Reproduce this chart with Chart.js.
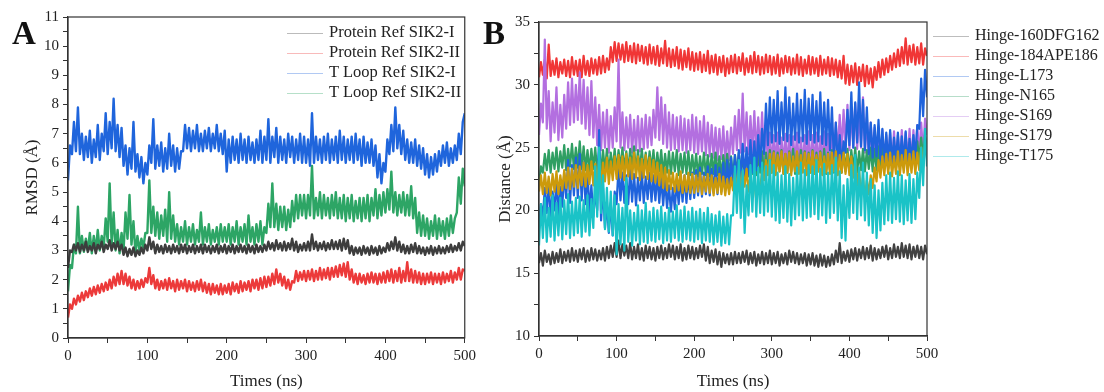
<!DOCTYPE html>
<html>
<head>
<meta charset="utf-8">
<script src="https://cdn.jsdelivr.net/npm/chart.js@4.4.1/dist/chart.umd.min.js"></script>
<style>
  body { margin: 0; background: #fff; font-family: 'Liberation Serif', 'Times New Roman', serif; }
  #wrap { position: relative; width: 1104px; height: 392px; overflow: hidden; }
  .panel { position: absolute; top: 0; height: 392px; }
  #panelA { left: 0; width: 480px; }
  #panelB { left: 480px; width: 624px; }
  .tag { position: absolute; font-weight: bold; font-size: 33px; line-height: 1; color: #111; }
  .legend { position: absolute; font-size: 16.5px; color: #222; }
  .legend div { height: 20px; line-height: 20px; white-space: nowrap; }
  .legend span { display: inline-block; width: 36px; height: 1px; vertical-align: middle; margin-right: 6px; }
</style>
</head>
<body>
<div id="wrap">
  <div class="panel" id="panelA"><canvas id="rmsdChart" width="480" height="392"></canvas></div>
  <div class="panel" id="panelB"><canvas id="distChart" width="624" height="392"></canvas></div>
  <div class="tag" style="left:12px; top:17px;">A</div>
  <div class="tag" style="left:483px; top:17px;">B</div>
  <div class="legend" id="legendA" style="left:287px; top:22px;"></div>
  <div class="legend" id="legendB" style="left:933px; top:25px; font-size:16px;"></div>
</div>
<script>
// sampling grid of the trajectories, ns
const timeNs = Array.from({ length: 201 }, (_, i) => i * 2.5);

// ---- RMSD (A) ----
const rmsdProteinI = [
  2.4, 3.0, 2.95, 3.2, 3.0, 3.25, 2.95, 3.2, 3.0, 3.3, 2.95, 3.15, 3.0, 3.25, 2.9, 3.2, 3.05, 3.3, 2.95, 3.2,
  3.05, 3.35, 3.0, 3.25, 3.05, 3.3, 3.0, 3.2, 2.85, 3.1, 2.8, 3.05, 2.85, 3.1, 2.8, 3.0, 2.85, 3.1, 2.9, 3.2,
  3.0, 3.45, 3.05, 3.3, 2.9, 3.2, 2.95, 3.15, 2.9, 3.2, 2.95, 3.15, 2.9, 3.2, 2.95, 3.15, 2.9, 3.2, 2.95, 3.2,
  2.9, 3.15, 2.95, 3.2, 2.9, 3.15, 2.95, 3.2, 2.9, 3.2, 2.95, 3.15, 2.9, 3.15, 2.95, 3.2, 2.9, 3.15, 2.95, 3.2,
  2.9, 3.15, 2.95, 3.2, 2.9, 3.15, 2.95, 3.2, 2.95, 3.15, 2.9, 3.2, 2.95, 3.15, 2.9, 3.2, 2.95, 3.15, 2.95, 3.2,
  3.0, 3.3, 3.05, 3.25, 3.0, 3.35, 3.05, 3.25, 3.0, 3.3, 3.0, 3.25, 3.05, 3.4, 3.0, 3.3, 2.95, 3.2, 3.0, 3.25,
  3.0, 3.3, 3.0, 3.55, 3.05, 3.3, 3.0, 3.25, 3.05, 3.3, 3.0, 3.25, 3.05, 3.35, 3.05, 3.3, 3.05, 3.35, 3.0, 3.4,
  3.05, 3.35, 2.9, 3.15, 2.85, 3.1, 2.9, 3.1, 2.85, 3.15, 2.9, 3.1, 2.85, 3.15, 2.9, 3.1, 2.85, 3.15, 2.9, 3.1,
  2.95, 3.25, 3.0, 3.3, 3.05, 3.45, 3.0, 3.3, 2.95, 3.2, 2.9, 3.15, 2.9, 3.2, 2.95, 3.25, 2.9, 3.15, 2.9, 3.1,
  2.85, 3.1, 2.9, 3.15, 2.85, 3.1, 2.9, 3.15, 2.9, 3.1, 2.9, 3.15, 2.95, 3.2, 2.95, 3.15, 3.0, 3.25, 3.0, 3.3,
  3.15
];
const rmsdProteinII = [
  0.7, 1.15, 1.0, 1.35, 1.15, 1.45, 1.25, 1.55, 1.3, 1.6, 1.4, 1.7, 1.45, 1.75, 1.5, 1.8, 1.55, 1.85, 1.6, 1.9,
  1.65, 2.0, 1.7, 2.1, 1.8, 2.2, 1.85, 2.3, 1.85, 2.2, 1.8, 2.1, 1.7, 2.0, 1.65, 1.95, 1.7, 2.0, 1.75, 2.05,
  1.9, 2.4, 1.85, 2.15, 1.7, 2.0, 1.65, 1.95, 1.7, 2.0, 1.65, 2.05, 1.7, 1.95, 1.6, 2.0, 1.65, 1.95, 1.7, 2.0,
  1.6, 1.95, 1.65, 1.9, 1.6, 1.95, 1.65, 2.0, 1.6, 1.9, 1.55, 1.85, 1.5, 1.85, 1.55, 1.8, 1.5, 1.85, 1.5, 1.8,
  1.55, 1.85, 1.5, 1.9, 1.6, 1.85, 1.55, 1.95, 1.6, 1.9, 1.65, 1.95, 1.6, 2.0, 1.7, 2.0, 1.65, 2.05, 1.7, 2.1,
  1.75, 2.1, 1.8, 2.2, 1.85, 2.35, 1.9, 2.2, 1.8, 2.1, 1.7, 2.0, 1.65, 1.95, 1.9, 2.3, 1.95, 2.25, 2.0, 2.3,
  1.95, 2.3, 2.0, 2.35, 1.95, 2.3, 2.0, 2.4, 2.0, 2.35, 2.05, 2.4, 2.0, 2.4, 2.1, 2.45, 2.1, 2.5, 2.15, 2.55,
  2.1, 2.6, 2.0, 2.35, 1.9, 2.2, 1.85, 2.2, 1.9, 2.15, 1.85, 2.2, 1.9, 2.25, 1.9, 2.2, 1.85, 2.2, 1.9, 2.25,
  1.9, 2.3, 1.95, 2.35, 1.9, 2.3, 1.95, 2.4, 1.9, 2.3, 1.95, 2.6, 1.95, 2.35, 1.9, 2.3, 1.9, 2.25, 1.85, 2.2,
  1.85, 2.2, 1.9, 2.25, 1.85, 2.2, 1.9, 2.2, 1.85, 2.25, 1.9, 2.2, 1.95, 2.3, 1.9, 2.25, 2.0, 2.4, 2.0, 2.35,
  2.3
];
const rmsdLoopI = [
  5.4, 6.6, 6.3, 7.4, 6.4, 7.9, 6.3, 7.0, 6.1, 6.9, 6.2, 7.1, 6.0, 6.8, 6.2, 7.3, 6.1, 7.0, 6.4, 7.7,
  6.3, 7.4, 6.5, 8.2, 6.4, 7.3, 6.2, 7.2, 5.9, 6.6, 5.6, 6.5, 5.8, 7.4, 5.7, 6.3, 5.5, 6.2, 5.3, 6.0,
  5.6, 6.6, 6.0, 7.5, 5.8, 6.6, 5.9, 6.7, 5.7, 6.5, 5.8, 7.0, 5.9, 6.6, 5.7, 6.5, 5.8, 6.4, 6.4, 7.3,
  6.5, 7.2, 6.4, 7.1, 6.5, 7.3, 6.4, 7.0, 6.4, 7.1, 6.5, 7.2, 6.4, 7.0, 6.5, 7.3, 6.4, 7.0, 6.3, 7.1,
  5.7, 6.8, 6.0, 6.9, 6.1, 6.8, 6.0, 7.0, 6.1, 6.8, 6.0, 6.9, 6.1, 6.7, 6.0, 6.8, 6.1, 7.1, 6.0, 6.9,
  6.1, 7.5, 6.0, 6.9, 6.2, 7.2, 6.0, 6.9, 6.1, 6.8, 6.0, 7.0, 6.2, 6.9, 6.0, 6.8, 6.1, 7.0, 6.0, 6.9,
  6.0, 6.8, 5.9, 7.7, 6.0, 6.9, 6.1, 6.8, 6.0, 6.9, 6.1, 7.0, 6.0, 6.8, 6.1, 6.9, 6.0, 7.1, 6.1, 6.9,
  6.0, 6.8, 6.1, 6.9, 6.0, 7.0, 6.1, 6.8, 5.9, 6.9, 6.0, 6.7, 6.0, 6.8, 5.9, 6.6, 5.5, 6.3, 5.3, 6.0,
  5.7, 6.8, 6.3, 7.3, 6.4, 7.9, 6.5, 7.3, 6.3, 7.1, 6.1, 6.8, 6.0, 6.7, 6.0, 6.8, 5.9, 6.6, 5.8, 6.5,
  5.6, 6.3, 5.5, 6.2, 5.6, 6.3, 5.7, 6.4, 5.9, 6.6, 6.0, 6.7, 5.9, 6.5, 6.0, 6.6, 6.1, 7.0, 6.3, 7.4,
  7.7
];
const rmsdLoopII = [
  1.6, 2.5, 2.4, 3.2, 2.9, 4.5, 2.9, 3.5, 2.95, 3.4, 3.0, 3.6, 2.9, 3.5, 3.0, 3.7, 3.0, 3.5, 3.1, 4.1,
  3.3, 5.3, 3.2, 4.3, 3.0, 3.7, 2.9, 3.6, 3.0, 4.3, 3.4, 4.9, 3.2, 4.0, 2.9, 3.5, 3.0, 3.4, 3.1, 3.6,
  3.6, 5.4, 3.6, 4.5, 3.5, 4.3, 3.4, 4.2, 3.5, 4.4, 3.3, 5.0, 3.4, 4.2, 3.3, 3.9, 3.2, 3.8, 3.3, 4.0,
  3.2, 3.8, 3.3, 3.9, 3.2, 3.7, 3.3, 4.3, 3.2, 3.8, 3.3, 3.9, 3.2, 3.7, 3.3, 3.8, 3.2, 3.9, 3.3, 3.8,
  3.3, 3.9, 3.2, 3.8, 3.3, 4.0, 3.2, 3.8, 3.3, 3.9, 3.2, 4.2, 3.3, 3.8, 3.2, 3.9, 3.3, 4.0, 3.2, 3.8,
  3.6, 4.6, 3.8, 5.3, 3.8, 4.6, 3.7, 4.5, 3.8, 4.5, 3.7, 4.4, 3.8, 4.7, 4.0, 4.9, 4.1, 4.9, 4.2, 4.9,
  4.1, 4.9, 4.2, 5.9, 4.1, 4.8, 4.2, 5.0, 4.1, 4.9, 4.2, 4.8, 4.1, 4.9, 4.2, 5.0, 4.1, 4.8, 4.1, 4.9,
  4.0, 4.8, 4.1, 4.9, 4.0, 4.7, 4.1, 4.8, 4.0, 4.8, 4.1, 4.9, 4.0, 4.8, 4.2, 5.1, 4.1, 4.9, 4.2, 5.0,
  4.3, 5.1, 4.4, 5.7, 4.3, 5.0, 4.2, 4.9, 4.3, 5.0, 4.2, 4.9, 4.2, 5.2, 4.1, 4.8, 3.6, 4.3, 3.5, 4.2,
  3.5, 4.1, 3.4, 4.0, 3.5, 4.2, 3.4, 4.1, 3.5, 4.0, 3.4, 4.1, 3.5, 4.2, 3.6, 4.1, 4.3, 5.5, 4.6, 5.8,
  5.2
];
const rmsdLabels = ['Protein Ref SIK2-I', 'Protein Ref SIK2-II', 'T Loop Ref SIK2-I', 'T Loop Ref SIK2-II'];
const rmsdColors = ['#3d3d3d', '#ec3a3a', '#1f65dc', '#2da565'];

// ---- hinge distances (B) ----
const distDFG = [
  15.8, 16.6, 15.6, 16.8, 15.9, 16.5, 15.7, 16.7, 15.8, 16.6, 15.9, 16.9, 15.8, 16.7, 16.0, 16.8, 15.9, 17.0, 16.0, 16.8,
  15.9, 16.9, 16.1, 17.0, 15.9, 16.8, 16.0, 17.0, 16.1, 16.9, 16.0, 16.8, 16.1, 17.0, 16.0, 17.1, 16.2, 17.2, 16.3, 17.4,
  16.3, 17.6, 16.2, 17.3, 16.4, 17.2, 16.2, 17.4, 16.1, 17.1, 16.2, 17.3, 16.1, 17.0, 16.0, 17.2, 16.2, 17.1, 16.1, 17.0,
  16.0, 17.1, 16.2, 17.2, 16.1, 17.0, 16.2, 17.3, 16.3, 17.2, 16.1, 17.1, 16.2, 17.3, 16.0, 17.0, 16.1, 17.2, 16.2, 17.1,
  16.1, 17.0, 16.2, 17.2, 16.3, 17.3, 16.0, 17.1, 15.8, 16.8, 15.9, 16.9, 15.7, 16.7, 15.5, 16.6, 15.8, 16.5, 15.7, 16.6,
  15.7, 16.7, 15.8, 16.6, 15.8, 16.7, 15.9, 16.8, 15.7, 16.6, 15.8, 16.7, 15.6, 16.5, 15.8, 16.7, 15.7, 16.6, 15.8, 16.8,
  15.7, 16.6, 15.8, 16.7, 15.6, 16.5, 15.8, 16.6, 15.7, 16.8, 15.9, 16.7, 15.8, 16.6, 15.7, 16.5, 15.8, 16.6, 15.6, 16.5,
  15.7, 16.6, 15.6, 16.4, 15.5, 16.5, 15.6, 16.4, 15.5, 16.3, 15.6, 16.5, 15.7, 16.8, 15.9, 17.4, 15.8, 16.7, 16.0, 16.8,
  15.9, 16.9, 16.1, 17.0, 16.0, 16.9, 16.2, 17.1, 16.1, 17.0, 16.2, 17.2, 16.0, 17.0, 16.1, 16.9, 16.2, 17.1, 16.3, 17.2,
  16.1, 17.0, 16.2, 17.3, 16.3, 17.1, 16.2, 17.4, 16.3, 17.2, 16.2, 17.3, 16.1, 17.1, 16.3, 17.2, 16.2, 17.1, 16.1, 17.2,
  16.5
];
const distAPE = [
  30.6, 31.8, 30.8, 32.0, 30.5, 33.2, 30.7, 31.9, 30.8, 32.1, 30.6, 31.8, 30.9, 32.0, 30.7, 31.9, 30.6, 32.2, 30.8, 31.9,
  30.7, 32.0, 30.6, 32.3, 30.8, 31.9, 30.7, 32.1, 30.9, 32.0, 30.8, 32.2, 30.9, 32.3, 31.0, 32.1, 31.2, 33.0, 31.8, 33.4,
  31.9, 33.3, 32.0, 33.2, 31.8, 33.4, 31.9, 33.1, 31.8, 33.3, 31.7, 33.2, 31.9, 33.1, 31.7, 33.0, 31.6, 33.2, 31.7, 33.0,
  31.6, 33.1, 31.5, 32.9, 31.7, 33.5, 31.5, 32.9, 31.4, 32.8, 31.5, 33.0, 31.3, 32.8, 31.2, 32.7, 31.4, 32.9, 31.2, 32.6,
  31.1, 32.5, 31.2, 32.6, 31.0, 32.4, 31.1, 32.7, 30.9, 32.3, 31.0, 32.4, 30.8, 32.2, 31.0, 32.3, 30.7, 32.1, 30.9, 32.3,
  31.0, 32.4, 30.9, 32.2, 31.1, 32.5, 30.8, 32.1, 31.0, 32.3, 30.9, 32.6, 31.0, 32.3, 30.8, 32.2, 30.9, 32.4, 31.0, 32.3,
  30.8, 32.2, 30.9, 32.4, 30.7, 32.1, 30.9, 32.3, 31.0, 32.2, 30.8, 32.1, 30.9, 32.4, 30.8, 32.2, 30.7, 32.0, 30.9, 32.3,
  30.8, 32.2, 30.9, 32.1, 30.7, 32.3, 30.8, 32.0, 30.9, 32.2, 30.7, 32.1, 30.8, 32.0, 30.6, 31.9, 30.5, 32.3, 30.1, 31.6,
  30.0, 31.5, 30.2, 31.7, 30.0, 31.4, 30.3, 31.6, 29.9, 31.5, 30.1, 31.3, 29.8, 31.4, 30.4, 31.8, 30.6, 32.0, 30.8, 32.1,
  31.0, 32.3, 31.2, 32.5, 31.4, 32.8, 31.5, 33.0, 31.7, 33.7, 31.6, 33.1, 31.8, 33.2, 31.6, 33.0, 31.7, 33.3, 31.6, 32.9,
  32.3
];
const distL173 = [
  18.5, 20.5, 19.5, 21.8, 19.8, 22.2, 19.4, 21.5, 20.0, 22.4, 19.6, 21.9, 20.3, 23.0, 21.0, 24.0, 20.6, 23.6, 21.2, 24.2,
  21.0, 24.5, 20.8, 23.8, 20.5, 23.2, 19.8, 22.0, 19.5, 21.5, 20.0, 26.4, 19.2, 21.8, 18.6, 20.5, 18.2, 20.6, 18.0, 21.5,
  20.5, 23.5, 20.8, 23.0, 20.6, 22.8, 20.5, 23.2, 20.7, 22.9, 20.4, 22.6, 20.8, 23.1, 20.6, 22.7, 20.9, 23.0, 20.7, 22.8,
  20.8, 22.9, 20.6, 22.6, 20.4, 22.4, 20.2, 22.0, 19.9, 21.8, 20.1, 22.3, 20.5, 22.6, 20.7, 22.8, 20.6, 22.9, 20.9, 23.0,
  21.0, 23.2, 21.2, 23.4, 21.1, 23.0, 21.3, 23.5, 21.2, 23.3, 21.4, 23.6, 21.3, 23.4, 21.5, 23.8, 21.6, 24.0, 21.8, 24.2,
  22.0, 24.4, 22.3, 24.8, 22.5, 25.3, 22.6, 25.0, 22.8, 25.6, 23.0, 25.5, 23.2, 26.0, 23.5, 26.5, 24.5, 28.5, 25.2, 29.0,
  25.4, 28.8, 25.5, 29.5, 25.3, 28.6, 25.6, 29.8, 25.5, 29.0, 25.2, 28.5, 25.6, 29.3, 25.4, 28.8, 25.5, 29.6, 25.3, 28.9,
  25.6, 29.2, 25.4, 28.7, 25.5, 29.4, 25.3, 28.6, 25.2, 28.8, 24.8, 28.2, 24.0, 27.0, 23.6, 26.0, 23.5, 25.5, 24.6, 28.0,
  25.2, 29.4, 25.0, 28.6, 25.4, 30.2, 25.1, 28.8, 24.8, 28.2, 24.5, 27.0, 24.2, 26.8, 24.3, 27.2, 24.0, 26.5, 23.8, 26.2,
  23.8, 26.4, 23.6, 25.8, 23.9, 26.2, 23.7, 25.9, 23.8, 26.3, 23.6, 25.7, 23.9, 26.0, 24.2, 26.8, 26.5, 30.5, 27.5, 31.2,
  29.0
];
const distN165 = [
  22.0, 23.5, 23.0, 24.5, 23.2, 24.8, 23.0, 24.6, 23.3, 25.0, 23.1, 24.7, 23.4, 25.2, 23.2, 24.9, 23.5, 25.3, 23.3, 25.0,
  23.4, 25.5, 23.3, 25.1, 23.2, 24.8, 23.1, 24.9, 23.3, 25.0, 23.0, 24.7, 23.2, 24.8, 23.1, 24.9, 23.0, 24.6, 23.2, 24.9,
  23.1, 24.8, 23.3, 25.0, 23.2, 24.7, 23.1, 24.9, 23.3, 25.1, 23.0, 24.8, 23.2, 24.9, 23.1, 24.6, 23.0, 24.7, 23.2, 24.8,
  22.9, 24.6, 23.1, 24.8, 22.8, 24.5, 23.0, 24.7, 22.9, 24.6, 23.1, 24.8, 22.8, 24.5, 23.0, 24.6, 22.9, 24.7, 22.8, 24.4,
  22.9, 24.5, 22.7, 24.3, 22.9, 24.6, 22.8, 24.4, 22.7, 24.5, 22.9, 24.6, 22.8, 24.3, 22.7, 24.4, 22.9, 24.5, 22.8, 24.3,
  22.7, 24.4, 22.9, 24.6, 22.8, 24.3, 22.9, 24.5, 22.7, 24.4, 22.9, 24.6, 22.8, 24.5, 23.0, 24.7, 22.9, 24.6, 23.0, 24.8,
  23.0, 24.7, 22.9, 24.6, 23.1, 24.8, 22.9, 24.5, 23.0, 24.7, 23.1, 24.9, 22.9, 24.6, 23.0, 24.8, 23.1, 24.7, 22.9, 24.6,
  23.0, 24.8, 22.9, 24.6, 23.1, 24.7, 23.0, 24.9, 22.9, 24.6, 23.1, 24.8, 23.0, 24.7, 22.9, 24.6, 23.0, 24.8, 23.1, 24.9,
  23.1, 24.8, 23.2, 25.0, 23.0, 24.7, 23.2, 24.9, 23.1, 24.8, 23.3, 25.0, 23.1, 24.9, 23.2, 25.1, 23.3, 25.0, 23.4, 25.2,
  23.3, 25.0, 23.5, 25.2, 23.4, 25.1, 23.6, 25.3, 23.5, 25.2, 23.7, 25.4, 23.6, 25.3, 23.8, 25.5, 24.0, 25.8, 24.2, 26.0,
  25.0
];
const distS169 = [
  26.0, 28.5, 27.0, 33.6, 26.5, 29.5, 25.5, 28.6, 26.2, 29.8, 25.6, 28.4, 25.8, 29.2, 26.5, 30.2, 26.8, 30.5, 27.0, 30.0,
  27.2, 31.0, 26.9, 30.4, 26.5, 29.8, 26.0, 30.3, 25.8, 29.0, 25.2, 28.4, 24.8, 27.8, 25.0, 28.0, 24.6, 27.5, 25.0, 28.2,
  25.5, 32.0, 25.0, 27.8, 24.8, 27.4, 25.0, 27.6, 24.6, 27.2, 24.8, 27.5, 24.7, 27.3, 24.9, 27.6, 25.0, 27.4, 25.2, 28.0,
  25.8, 29.8, 25.6, 29.0, 25.3, 28.4, 25.0, 27.8, 24.8, 27.6, 24.9, 27.4, 24.7, 27.5, 24.8, 27.3, 24.6, 27.2, 24.8, 27.6,
  24.6, 27.4, 24.5, 27.1, 24.7, 27.5, 24.4, 27.0, 24.3, 26.8, 24.2, 26.6, 24.0, 26.5, 24.1, 26.7, 23.9, 26.3, 24.0, 26.6,
  24.5, 27.5, 24.8, 28.0, 24.6, 29.3, 24.7, 27.8, 24.5, 27.5, 24.6, 27.9, 24.4, 27.4, 24.5, 27.8, 24.0, 26.8, 23.6, 26.2,
  23.5, 26.0, 23.7, 26.2, 23.4, 25.8, 23.6, 26.1, 23.5, 26.0, 23.3, 25.9, 23.6, 26.2, 23.4, 25.8, 23.5, 26.0, 23.6, 26.3,
  23.4, 26.0, 23.6, 26.2, 23.5, 25.9, 23.7, 26.3, 23.6, 26.1, 23.8, 26.5, 24.0, 27.0, 24.5, 27.6, 24.8, 28.0, 25.0, 28.4,
  24.8, 28.0, 25.0, 28.5, 24.9, 27.8, 25.0, 29.0, 24.6, 27.4, 24.2, 27.0, 23.8, 26.6, 23.5, 26.2, 23.6, 26.4, 23.4, 26.0,
  23.5, 26.2, 23.6, 26.3, 23.4, 26.0, 23.7, 26.4, 23.6, 26.2, 23.8, 26.5, 23.7, 26.4, 24.0, 26.8, 24.2, 27.0, 24.5, 27.3,
  26.0
];
const distS179 = [
  21.5, 22.8, 21.3, 23.0, 21.4, 22.7, 21.2, 22.9, 21.5, 23.1, 21.3, 22.8, 21.6, 23.2, 21.8, 23.4, 21.7, 23.3, 21.9, 23.6,
  21.8, 23.5, 22.0, 23.8, 21.9, 23.6, 22.1, 23.9, 22.0, 23.7, 22.2, 24.1, 22.0, 23.8, 22.3, 24.2, 22.1, 23.9, 22.4, 24.3,
  22.5, 24.4, 22.6, 24.3, 22.4, 24.5, 22.7, 24.2, 22.5, 24.6, 22.6, 24.3, 22.4, 24.1, 22.6, 24.4, 22.5, 24.2, 22.3, 24.0,
  22.2, 23.8, 22.0, 23.6, 21.8, 23.4, 21.6, 23.2, 21.7, 23.0, 21.5, 22.9, 21.6, 23.1, 21.4, 22.8, 21.5, 23.0, 21.4, 22.9,
  21.4, 22.8, 21.5, 23.0, 21.3, 22.7, 21.5, 22.9, 21.4, 22.8, 21.2, 22.6, 21.4, 22.9, 21.3, 22.7, 21.2, 22.5, 21.3, 22.6,
  21.6, 23.0, 21.8, 23.2, 21.7, 23.1, 21.9, 23.3, 21.5, 22.8, 21.2, 22.4, 20.8, 22.2, 21.6, 23.2, 22.4, 24.0, 22.8, 24.5,
  23.0, 24.6, 22.8, 24.4, 23.1, 24.7, 22.9, 24.5, 23.0, 24.6, 22.8, 24.3, 23.1, 24.7, 22.9, 24.4, 23.0, 24.6, 22.8, 24.5,
  23.0, 24.7, 22.9, 24.4, 23.1, 24.6, 22.8, 24.3, 23.0, 24.5, 22.9, 24.6, 23.1, 24.7, 22.8, 24.4, 23.0, 24.6, 22.9, 24.5,
  22.8, 24.3, 22.6, 24.0, 22.0, 23.2, 21.2, 22.6, 21.0, 22.4, 21.3, 22.8, 21.8, 23.4, 22.3, 24.0, 22.6, 24.3, 22.8, 24.5,
  22.9, 24.6, 22.7, 24.3, 22.9, 24.7, 22.8, 24.4, 23.0, 24.8, 22.8, 24.5, 23.0, 24.7, 22.9, 24.6, 23.2, 25.0, 23.4, 25.2,
  24.5
];
const distT175 = [
  17.2, 20.5, 17.8, 21.0, 17.5, 20.2, 17.9, 21.2, 17.6, 20.6, 18.0, 21.0, 17.7, 20.8, 18.1, 21.3, 17.8, 20.7, 18.0, 21.0,
  18.2, 21.1, 17.9, 20.8, 18.3, 21.2, 18.0, 20.9, 18.6, 23.5, 19.5, 25.0, 19.8, 22.8, 18.5, 21.8, 18.3, 21.5, 18.0, 21.2,
  16.5, 20.5, 17.3, 20.2, 16.8, 22.6, 17.5, 20.0, 17.2, 19.8, 17.6, 20.4, 17.3, 20.0, 17.5, 20.6, 17.4, 19.9, 17.6, 20.2,
  17.5, 20.0, 17.7, 20.3, 17.4, 19.8, 17.6, 20.2, 17.5, 19.9, 17.8, 20.4, 17.6, 20.0, 17.5, 20.3, 17.7, 19.9, 17.6, 20.2,
  17.5, 19.9, 17.7, 20.1, 17.4, 19.8, 17.6, 20.2, 17.5, 19.7, 17.3, 19.6, 17.5, 19.9, 17.2, 19.5, 17.4, 19.7, 17.3, 19.6,
  19.6, 23.5, 19.8, 24.0, 19.4, 23.2, 18.2, 22.0, 19.6, 23.6, 19.9, 24.2, 19.5, 23.4, 19.8, 23.8, 19.6, 23.5, 19.9, 24.0,
  19.5, 23.6, 19.2, 23.0, 19.0, 22.8, 19.4, 23.5, 19.1, 22.9, 18.8, 22.6, 19.3, 23.4, 19.6, 23.8, 19.2, 23.2, 19.4, 23.6,
  19.5, 23.5, 19.7, 24.0, 19.3, 23.3, 19.6, 23.7, 19.0, 23.0, 19.4, 23.6, 19.8, 24.2, 19.2, 23.1, 17.8, 22.0, 17.6, 22.5,
  19.4, 23.6, 19.8, 24.4, 19.3, 23.4, 19.6, 23.8, 19.2, 23.0, 18.8, 22.5, 18.2, 22.0, 17.8, 21.6, 18.4, 22.2, 18.9, 22.8,
  19.2, 23.0, 19.0, 22.6, 19.3, 23.1, 19.1, 22.8, 18.9, 22.4, 19.2, 22.9, 19.0, 22.5, 19.3, 23.0, 21.0, 25.0, 22.0, 26.5,
  23.5
];
const distLabels = ['Hinge-160DFG162', 'Hinge-184APE186', 'Hinge-L173', 'Hinge-N165', 'Hinge-S169', 'Hinge-S179', 'Hinge-T175'];
const distColors = ['#414141', '#f03636', '#1f63dc', '#2f9f63', '#b36fe0', '#cc9a0b', '#1ac3c7'];
// which trace sits on top (0 = drawn last)
const distOrder = [5, 6, 2, 3, 4, 1, 0];

const FONT = "'Liberation Serif', 'Times New Roman', serif";
const INK = '#333';

// closed box around the plot area
const frame = {
  id: 'frame',
  afterDraw(chart) {
    const { ctx, chartArea: a } = chart;
    ctx.save();
    ctx.strokeStyle = INK;
    ctx.lineWidth = 1.2;
    ctx.strokeRect(a.left, a.top, a.right - a.left, a.bottom - a.top);
    ctx.restore();
  }
};

function axis(opts) {
  return {
    type: 'linear',
    min: opts.min,
    max: opts.max,
    afterFit: opts.fit,
    title: { display: true, text: opts.title, color: '#222', font: { family: FONT, size: 17 }, padding: { top: opts.titlePad, bottom: 0 } },
    grid: { display: true, drawOnChartArea: false, drawTicks: true, tickLength: 5, tickColor: INK, color: INK },
    border: { display: true, color: INK, width: 1.2 },
    ticks: {
      stepSize: opts.step,
      autoSkip: false,
      maxRotation: 0,
      padding: 4,
      color: '#222',
      font: { family: FONT, size: 15 },
      callback: (v) => (v % opts.labelEvery === 0 ? v : '')
    }
  };
}

function lineSets(series, labels, colors, width, order) {
  return series.map((s, i) => ({
    label: labels[i],
    data: s,
    borderColor: colors[i],
    borderWidth: width,
    borderJoinStyle: 'round',
    pointRadius: 0,
    tension: 0,
    order: order ? order[i] : i
  }));
}

function buildLegend(el, labels, colors) {
  labels.forEach((label, i) => {
    const row = document.createElement('div');
    const swatch = document.createElement('span');
    swatch.style.background = colors[i];
    swatch.style.opacity = 0.35;
    row.appendChild(swatch);
    row.appendChild(document.createTextNode(label));
    el.appendChild(row);
  });
}

new Chart(document.getElementById('rmsdChart'), {
  type: 'line',
  data: {
    labels: timeNs,
    datasets: lineSets([rmsdProteinI, rmsdProteinII, rmsdLoopI, rmsdLoopII], rmsdLabels, rmsdColors, 2.4)
  },
  options: {
    responsive: false,
    animation: false,
    layout: { padding: { top: 17, right: 14, left: 0, bottom: 0 } },
    plugins: { legend: { display: false }, tooltip: { enabled: false } },
    scales: {
      x: axis({ min: 0, max: 500, step: 50, labelEvery: 100, title: 'Times (ns)', titlePad: 2, fit: (s) => { s.height = 54; } }),
      y: axis({ min: 0, max: 11, step: 0.5, labelEvery: 1, title: 'RMSD (Å)', titlePad: 22, fit: (s) => { s.width = 68; } })
    }
  },
  plugins: [frame]
});

new Chart(document.getElementById('distChart'), {
  type: 'line',
  data: {
    labels: timeNs,
    datasets: lineSets([distDFG, distAPE, distL173, distN165, distS169, distS179, distT175], distLabels, distColors, 2.2, distOrder)
  },
  options: {
    responsive: false,
    animation: false,
    layout: { padding: { top: 22, right: 177, left: 0, bottom: 0 } },
    plugins: { legend: { display: false }, tooltip: { enabled: false } },
    scales: {
      x: axis({ min: 0, max: 500, step: 50, labelEvery: 100, title: 'Times (ns)', titlePad: 5, fit: (s) => { s.height = 56; } }),
      y: axis({ min: 10, max: 35, step: 2.5, labelEvery: 5, title: 'Distance (Å)', titlePad: 15, fit: (s) => { s.width = 59; } })
    }
  },
  plugins: [frame]
});

buildLegend(document.getElementById('legendA'), rmsdLabels, rmsdColors);
buildLegend(document.getElementById('legendB'), distLabels, distColors);
</script>
</body>
</html>
